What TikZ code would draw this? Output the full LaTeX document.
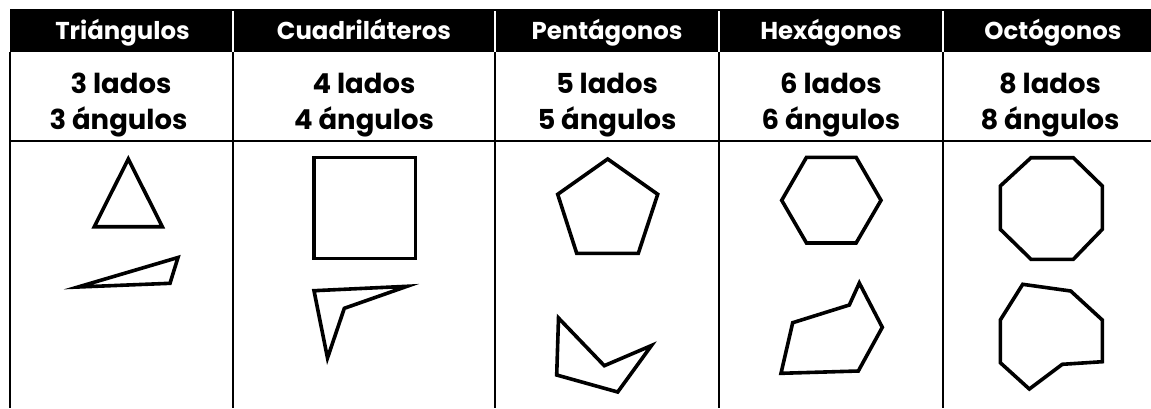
\documentclass[tikz,border=0pt]{standalone}
\usepackage{fontspec}
\setmainfont{Poppins}
\begin{document}
\begin{tikzpicture}[x=0.75pt,y=-0.75pt,
  hdr/.style={font=\fontsize{18.3}{20}\selectfont\bfseries, text=white, anchor=base, inner sep=0pt},
  info/.style={font=\fontsize{20.6}{22}\selectfont\bfseries, anchor=base, inner sep=0pt},
  poly/.style={line width=2.7pt, line join=miter},
  grid/.style={line width=1.5pt},
  hdrsep/.style={white, line width=1.5pt}]
\useasboundingbox (0,0) rectangle (1151,408);
% header band
\fill[black] (10,9) rectangle (1151,52);
\foreach \x in {233,495,719,943} {
  \draw[hdrsep] (\x,11) -- (\x,52);
  \draw[grid] (\x,52) -- (\x,408);
}
\draw[grid] (10,52) -- (10,408);
\draw[grid] (10,141) -- (1151,141);
% header texts
\node[hdr] (h1) at (122.5,39.5) {Triángulos};
\node[hdr] (h2) at (364,39.5) {Cuadriláteros};
\node[hdr] (h3) at (607,39.5) {Pentágonos};
\node[hdr] (h4) at (831,39.5) {Hexágonos};
\node[hdr] (h5) at (1053,39.5) {Octógonos};
% info texts
\node[info] (a1) at (121,93) {3 lados};
\node[info] (b1) at (118.5,129.5) {3 ángulos};
\node[info] (a2) at (364,93) {4 lados};
\node[info] (b2) at (364,129.5) {4 ángulos};
\node[info] (a3) at (607,93) {5 lados};
\node[info] (b3) at (607,129.5) {5 ángulos};
\node[info] (a4) at (831,93) {6 lados};
\node[info] (b4) at (831,129.5) {6 ángulos};
\node[info] (a5) at (1050,93) {8 lados};
\node[info] (b5) at (1050,129.5) {8 ángulos};
% triangles
\draw[poly] (128.3,159) -- (162.3,226.7) -- (94.3,226.7) -- cycle;
\draw[poly] (78,287) -- (178,257.5) -- (170,283.3) -- cycle;
% quadrilaterals
\draw[poly] (314,157.3) rectangle (415.3,258.3);
\draw[poly] (314,290.7) -- (407,286.3) -- (344.3,308.3) -- (327.5,358) -- cycle;
% pentagons
\draw[poly] (607.7,159) -- (657.7,194.3) -- (638.3,253.3) -- (576.7,253.3) -- (557.7,194.3) -- cycle;
\draw[poly] (558.5,318) -- (604.3,365.7) -- (651.5,345.5) -- (617.7,392) -- (556.7,375) -- cycle;
% hexagons
\draw[poly] (781.7,200.3) -- (806.5,157.3) -- (856.1,157.3) -- (881,200.3) -- (856.1,243) -- (806.5,243) -- cycle;
\draw[poly] (792.7,322.7) -- (849.3,305) -- (859.3,283) -- (882.3,327.3) -- (858.3,371) -- (781,373.3) -- cycle;
% octagons
\draw[poly] (1031,157.7) -- (1073.3,157.7) -- (1102.3,186) -- (1102.3,229.3) -- (1073.3,259.3) -- (1031,259.3) -- (1000.3,229.3) -- (1000.3,186) -- cycle;
\draw[poly] (1022.7,284.3) -- (1070.7,291) -- (1102.3,320) -- (1102.3,361.7) -- (1062.3,364.3) -- (1029.3,389) -- (1000.3,362.7) -- (1000.3,320) -- cycle;
\end{tikzpicture}
\end{document}
